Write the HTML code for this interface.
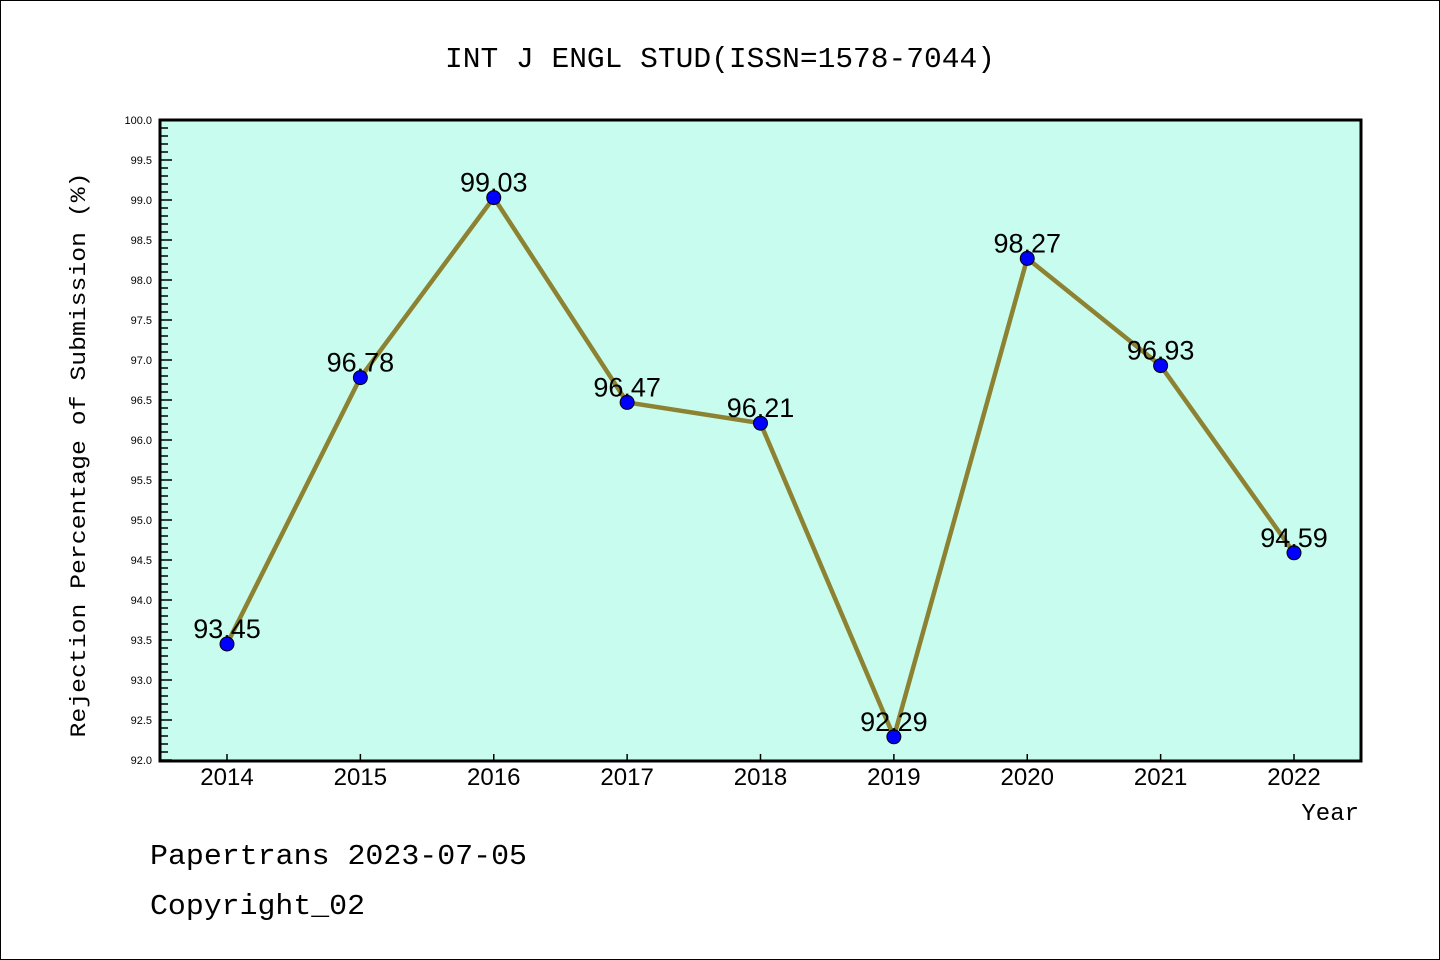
<!DOCTYPE html>
<html><head><meta charset="utf-8"><style>html,body{margin:0;padding:0;background:#fff}svg{display:block}</style></head>
<body>
<svg id="chart" width="1440" height="960" viewBox="0 0 1440 960" xmlns="http://www.w3.org/2000/svg" font-family="'Liberation Mono', 'WenQuanYi Zen Hei', monospace">
<rect x="0.5" y="0.5" width="1439" height="959" fill="#fff" stroke="#000" stroke-width="1"/>
<text x="720" y="67" text-anchor="middle" font-size="29" textLength="550" lengthAdjust="spacingAndGlyphs">INT J ENGL STUD(ISSN=1578-7044)</text>
<rect x="160" y="120" width="1201" height="641" fill="#c8fcee"/>
<g id="yticks"></g>
<g id="xticks"></g>
<g id="series"></g>
<rect x="160" y="120" width="1201" height="641" fill="none" stroke="#000" stroke-width="3"/>
<text transform="translate(85,455) rotate(-90)" text-anchor="middle" font-size="22" textLength="565" lengthAdjust="spacingAndGlyphs">Rejection Percentage of Submission (%)</text>
<text x="1359" y="820" text-anchor="end" font-size="24">Year</text>
<text x="150" y="864" font-size="29" textLength="377" lengthAdjust="spacingAndGlyphs">Papertrans 2023-07-05</text>
<text x="150" y="914" font-size="29" textLength="215" lengthAdjust="spacingAndGlyphs">Copyright_02</text>
</svg>
<script>
const years = ["2014","2015","2016","2017","2018","2019","2020","2021","2022"];
const rejection = [93.45,96.78,99.03,96.47,96.21,92.29,98.27,96.93,94.59];
const yTickLabels = ["92.0","92.5","93.0","93.5","94.0","94.5","95.0","95.5","96.0","96.5","97.0","97.5","98.0","98.5","99.0","99.5","100.0"];
const NS="http://www.w3.org/2000/svg";
const yMin=92,yMax=100,plotTop=120,plotBot=760;
const xFirst=227,xLast=1294;
function ys(v){return plotBot-(v-yMin)/(yMax-yMin)*(plotBot-plotTop);}
function xs(i){return xFirst+i*(xLast-xFirst)/(years.length-1);}
function mk(tag,attrs,parent){const e=document.createElementNS(NS,tag);for(const k in attrs)e.setAttribute(k,attrs[k]);parent.appendChild(e);return e;}
const yg=document.getElementById('yticks');
for(let k=0;k<=80;k++){const v=yMin+k*0.1;const y=ys(v);const major=k%5===0;
 const l=mk('line',{x1:160,x2:160+(major?12:8),y1:y,y2:y,stroke:'#000','stroke-width':1.5},yg);
 
 }
yTickLabels.forEach(s=>{const t=mk('text',{x:152,y:ys(parseFloat(s))+4,'text-anchor':'end','font-size':11,'font-family':"'Liberation Sans',sans-serif"},yg);t.textContent=s;
 
 });
const xg=document.getElementById('xticks');
years.forEach((yr,i)=>{const x=xs(i);
 const l=mk('line',{x1:x,x2:x,y1:761,y2:754,stroke:'#000','stroke-width':1.5},xg);
 
 
 const t=mk('text',{x:x,y:785,'text-anchor':'middle','font-size':24,'font-family':"'Liberation Sans',sans-serif"},xg);t.textContent=yr;
 
 });
const sg=document.getElementById('series');
const pts=rejection.map((v,i)=>xs(i)+','+ys(v)).join(' ');
const pl=mk('polyline',{points:pts,fill:'none',stroke:'#8c8232','stroke-width':4.5},sg);


rejection.forEach((v,i)=>{const c=mk('circle',{cx:xs(i),cy:ys(v),r:7,fill:'#0000ff',stroke:'#000','stroke-width':1},sg);
 
 
 const t=mk('text',{x:xs(i),y:ys(v)-6,'text-anchor':'middle','font-size':27,'font-family':"'Liberation Sans',sans-serif"},sg);t.textContent=v.toFixed(2);
 
 });
</script>
</body></html>
